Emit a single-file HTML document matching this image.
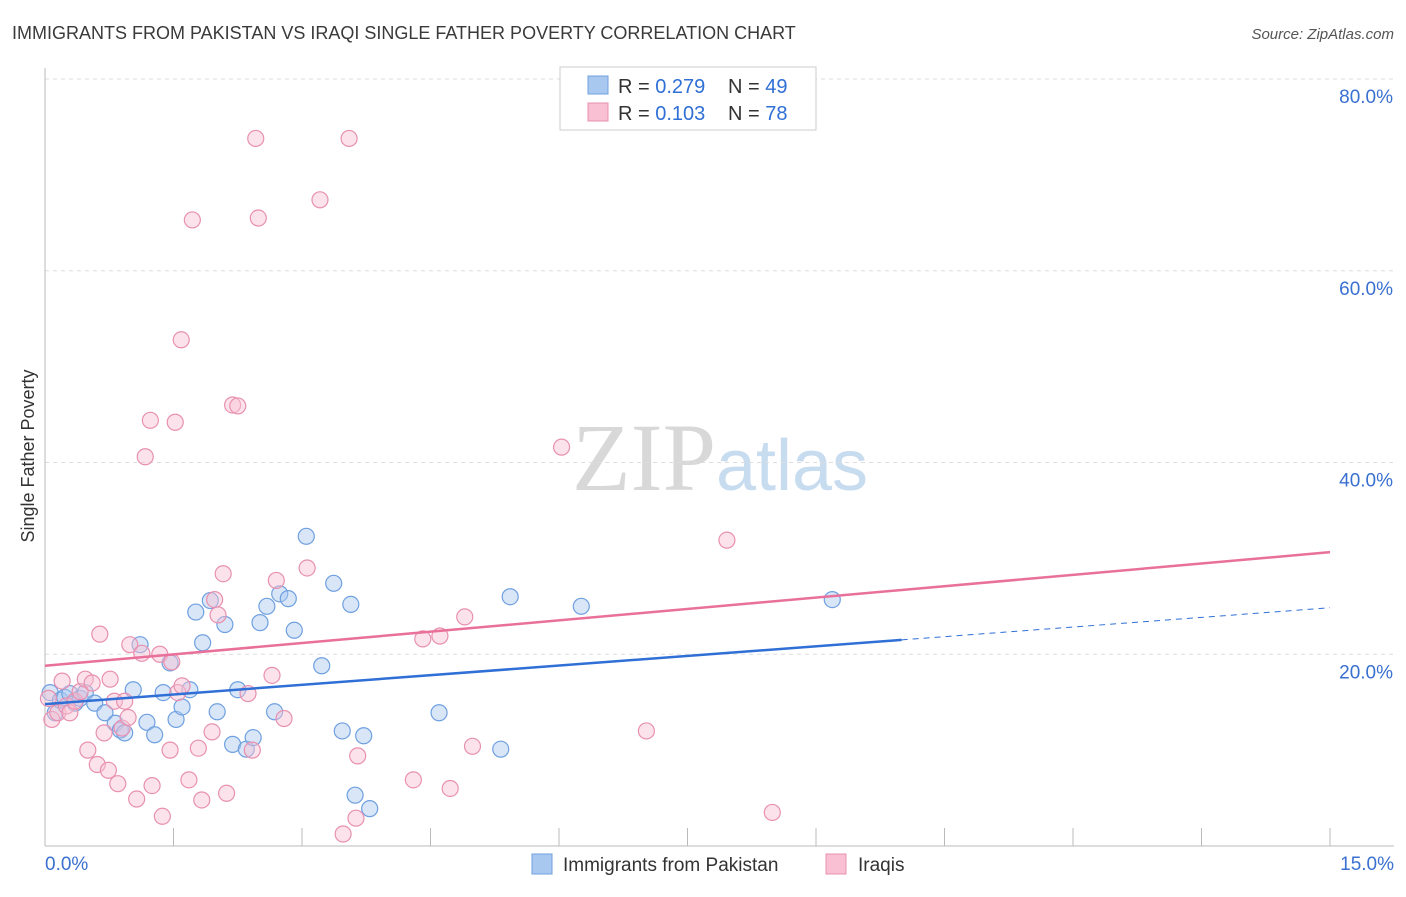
<!DOCTYPE html>
<html><head><meta charset="utf-8"><style>
body{margin:0;background:#fff;font-family:"Liberation Sans",sans-serif}
svg text{font-family:"Liberation Sans",sans-serif}
</style></head><body>
<svg id="chart" width="1406" height="892" xmlns="http://www.w3.org/2000/svg">
<text x="12" y="39" font-size="18" fill="#3a3a3a">IMMIGRANTS FROM PAKISTAN VS IRAQI SINGLE FATHER POVERTY CORRELATION CHART</text>
<text x="1394" y="39" font-size="15" fill="#555" text-anchor="end" font-style="italic">Source: ZipAtlas.com</text>
<text x="720" y="490" font-size="96" text-anchor="middle" font-family="Liberation Serif" fill="#ddd"><tspan fill="#d8d8d8" font-family="Liberation Serif">ZIP</tspan><tspan fill="#c8dcf0" font-family="Liberation Sans" font-size="72">atlas</tspan></text>
<g id="grid"></g>
<g id="axes"></g>
<g id="marks"></g>
<text transform="translate(34,456) rotate(-90)" font-size="18" fill="#333" text-anchor="middle">Single Father Poverty</text>
<g>
<rect x="560" y="67" width="256" height="63" fill="#fff" stroke="#ccc"/>
<rect x="588" y="76" width="20" height="18" fill="#a8c8f0" stroke="#6fa0e0"/>
<rect x="588" y="103" width="20" height="18" fill="#f8c0d2" stroke="#e890b0"/>
<text x="618" y="93" font-size="20" fill="#333">R = <tspan fill="#2f6fd6">0.279</tspan></text>
<text x="728" y="93" font-size="20" fill="#333">N = <tspan fill="#2f6fd6">49</tspan></text>
<text x="618" y="120" font-size="20" fill="#333">R = <tspan fill="#2f6fd6">0.103</tspan></text>
<text x="728" y="120" font-size="20" fill="#333">N = <tspan fill="#2f6fd6">78</tspan></text>
</g>
<g>
<rect x="532" y="854" width="20" height="20" fill="#a8c8f0" stroke="#6fa0e0"/>
<text x="563" y="871" font-size="19" fill="#333">Immigrants from Pakistan</text>
<rect x="826" y="854" width="20" height="20" fill="#f8c0d2" stroke="#e890b0"/>
<text x="858" y="871" font-size="19" fill="#333">Iraqis</text>
</g>
</svg>
<script>
const yTicks=[20,40,60,80];
const yTickLabels=["20.0%","40.0%","60.0%","80.0%"];
const xTickLabels=["0.0%","15.0%"];
const pakX=[0.06,0.12,0.18,0.23,0.29,0.35,0.41,0.47,0.58,0.70,0.82,0.88,0.93,1.03,1.11,1.19,1.28,1.38,1.46,1.53,1.60,1.69,1.76,1.84,1.93,2.01,2.10,2.19,2.25,2.35,2.43,2.51,2.59,2.68,2.74,2.84,2.91,3.05,3.23,3.37,3.47,3.57,3.62,3.72,3.79,4.60,5.32,5.43,6.26,9.19];
const pakY=[16.0,13.9,15.2,15.5,15.9,14.9,15.4,16.0,14.9,13.9,12.8,12.1,11.8,16.3,21.0,12.9,11.6,16.0,19.1,13.2,14.5,16.3,24.4,21.2,25.6,14.0,23.1,10.6,16.3,10.1,11.3,23.3,25.0,14.0,26.3,25.8,22.5,32.3,18.8,27.4,12.0,25.2,5.3,11.5,3.9,13.9,10.1,26.0,25.0,25.7];
const iraqX=[0.04,0.08,0.15,0.20,0.25,0.29,0.35,0.41,0.47,0.50,0.55,0.61,0.64,0.69,0.74,0.76,0.81,0.85,0.90,0.93,0.97,0.99,1.07,1.13,1.17,1.23,1.25,1.34,1.37,1.46,1.48,1.52,1.55,1.59,1.60,1.68,1.72,1.79,1.83,1.95,1.98,2.02,2.08,2.12,2.19,2.25,2.37,2.42,2.49,2.46,2.65,2.70,2.79,3.06,3.21,3.48,3.55,3.63,3.65,4.30,4.41,4.61,4.73,4.90,4.99,6.03,7.02,7.96,8.49,8.60,10.83];
const iraqY=[15.4,13.2,13.9,17.2,14.6,13.9,15.1,16.1,17.4,10.0,17.0,8.5,22.1,11.8,7.9,17.4,15.1,6.5,12.3,15.1,13.4,21.0,4.9,20.1,40.6,44.4,6.3,20.0,3.1,10.0,19.2,44.2,16.0,52.8,16.7,6.9,65.3,10.2,4.8,11.9,25.7,24.1,28.4,5.5,46.0,45.9,15.9,10.0,65.5,73.8,17.8,27.7,13.3,29.0,67.4,1.25,73.8,2.9,9.4,6.9,21.6,21.9,6.0,23.9,10.4,41.6,12.0,31.9,3.5];
const ns="http://www.w3.org/2000/svg";
const X0=45,X1=1330,Y0=846,Y80=79;
const xs=v=>X0+(X1-X0)*v/15;
const ys=v=>Y0-(Y0-Y80)*v/80;
function mk(t,a,p){const e=document.createElementNS(ns,t);for(const k in a)e.setAttribute(k,a[k]);document.getElementById(p).appendChild(e);return e;}
yTicks.forEach((t,i)=>{
 const l=mk('line',{x1:X0,x2:1394,y1:ys(t),y2:ys(t),stroke:'#ddd','stroke-dasharray':'4,4'},'grid');
 
 
 const tx=mk('text',{x:1393,y:ys(t)+24,'font-size':19,fill:'#3a70d0','text-anchor':'end'},'axes');
 tx.textContent=yTickLabels[i];
 
 
});
const ax=mk('line',{x1:X0,x2:1394,y1:Y0,y2:Y0,stroke:'#bbb'},'axes');


const ay=mk('line',{x1:X0,x2:X0,y1:68,y2:Y0,stroke:'#bbb'},'axes');


for(let i=0;i<=10;i++){const t=mk('line',{x1:xs(i*1.5),x2:xs(i*1.5),y1:Y0,y2:Y0-18,stroke:'#bbb'},'axes');
 
 }
[[0,'start',45],[15,'end',1394]].forEach((d,i)=>{const t=mk('text',{x:d[2],y:870,'font-size':19,fill:'#3a70d0','text-anchor':d[1]},'axes');t.textContent=xTickLabels[i];
 
 });
function dots(xa,ya,f,s,n){const m=Math.min(xa.length,ya.length);for(let i=0;i<m;i++){const c=mk('circle',{cx:xs(xa[i]),cy:ys(ya[i]),r:8,fill:f,'fill-opacity':0.45,stroke:s,'stroke-width':1.2},'marks');
 
 }}
dots(pakX,pakY,'#a8c8f0','#6fa0e0','pakistan-point');
dots(iraqX,iraqY,'#f8c0d2','#e890b0','iraqi-point');
const blueA=14.8,blueB=0.67,pinkA=18.8,pinkB=0.79;
let ln=mk('line',{x1:xs(0),y1:ys(blueA),x2:xs(10),y2:ys(blueA+blueB*10),stroke:'#2f6fd6','stroke-width':2.5},'marks');


ln=mk('line',{x1:xs(10),y1:ys(blueA+blueB*10),x2:xs(15),y2:ys(blueA+blueB*15),stroke:'#2f6fd6','stroke-width':1,'stroke-dasharray':'6,5'},'marks');


ln=mk('line',{x1:xs(0),y1:ys(pinkA),x2:xs(15),y2:ys(pinkA+pinkB*15),stroke:'#e8709a','stroke-width':2.5},'marks');


const topLine=mk('line',{x1:X0,x2:1394,y1:Y80,y2:Y80,stroke:'#ddd','stroke-dasharray':'4,4'},'grid');


</script>
</body></html>
